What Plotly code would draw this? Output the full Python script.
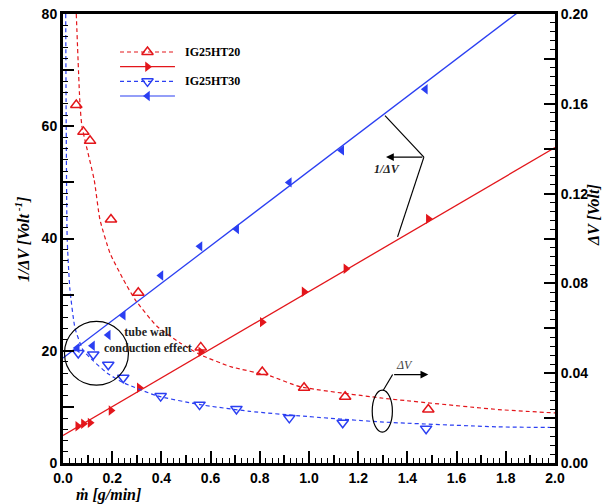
import plotly.graph_objects as go

# ---------------- data ----------------
# IG25HT20 : 1/dV (left axis) and dV (right axis)
ht20_x_inv = [0.06, 0.083, 0.11, 0.195, 0.31, 0.56, 0.81, 0.98, 1.15, 1.485]
ht20_inv = [6.55, 7.0, 7.15, 9.35, 13.4, 19.8, 25.1, 30.5, 34.6, 43.5]
ht20_x_dv = [0.054, 0.083, 0.11, 0.195, 0.306, 0.56, 0.81, 0.98, 1.147, 1.485]
ht20_dv = [0.1595, 0.1475, 0.1435, 0.1085, 0.0758, 0.0515, 0.0405, 0.0335, 0.0295, 0.0238]

# IG25HT30
ht30_x_inv = [0.058, 0.12, 0.184, 0.245, 0.398, 0.557, 0.706, 0.92, 1.133, 1.473]
ht30_inv = [20.5, 20.9, 22.8, 26.3, 33.4, 38.6, 41.7, 50.0, 55.7, 66.6]
ht30_x_dv = [0.062, 0.123, 0.184, 0.245, 0.397, 0.555, 0.705, 0.92, 1.137, 1.476]
ht30_dv = [0.049, 0.0483, 0.0438, 0.038, 0.0298, 0.026, 0.0241, 0.0201, 0.0179, 0.0153]

# fitted lines (1/dV, left axis)
fit20_x = [0.0, 2.0]
fit20_y = [4.9, 56.2]
fit30_x = [0.0, 2.0]
fit30_y = [18.7, 85.3]

# fitted curves (dV, right axis)
curve20_x = [0.054, 0.069, 0.077, 0.127, 0.15, 0.191, 0.245, 0.293, 0.381, 0.476, 0.557, 0.679, 0.841, 0.963, 1.29, 1.77, 2.0]
curve20_y = [0.2, 0.16, 0.15, 0.126, 0.1085, 0.0935, 0.0818, 0.0728, 0.061, 0.0535, 0.0483, 0.043, 0.0388, 0.034, 0.029, 0.0238, 0.0223]
curve30_x = [0.011, 0.013, 0.017, 0.028, 0.049, 0.083, 0.12, 0.18, 0.245, 0.38, 0.557, 0.76, 0.963, 1.29, 1.77, 2.0]
curve30_y = [0.2, 0.15, 0.1, 0.0775, 0.06, 0.05, 0.0458, 0.04, 0.0358, 0.03, 0.026, 0.023, 0.021, 0.0183, 0.0161, 0.0158]

# tick values / labels
x_ticks = [0.0, 0.2, 0.4, 0.6, 0.8, 1.0, 1.2, 1.4, 1.6, 1.8, 2.0]
x_mid_ticks = [0.1, 0.3, 0.5, 0.7, 0.9, 1.1, 1.3, 1.5, 1.7, 1.9]
y_ticks = [0, 10, 20, 30, 40, 50, 60, 70, 80]
y_labels = ['0', '', '20', '', '40', '', '60', '', '80']
y2_ticks = [0.00, 0.02, 0.04, 0.06, 0.08, 0.10, 0.12, 0.14, 0.16, 0.18, 0.20]
y2_labels = ['0.00', '', '0.04', '', '0.08', '', '0.12', '', '0.16', '', '0.20']

legend_names = ['IG25HT20', '', 'IG25HT30', '']
legend_rows = [0, 1, 2, 3]

RED = '#e3161b'
BLUE = '#2b3ff2'
SERIF = 'Liberation Serif'
SANS = 'Liberation Sans'
DASH = '4px,3px'

fig = go.Figure()

# dashed dV curves
fig.add_trace(go.Scatter(x=curve20_x, y=curve20_y, yaxis='y2', mode='lines',
                         line=dict(color=RED, width=1.2, dash=DASH, shape='spline', smoothing=0.5),
                         showlegend=False, hoverinfo='skip'))
fig.add_trace(go.Scatter(x=curve30_x, y=curve30_y, yaxis='y2', mode='lines',
                         line=dict(color=BLUE, width=1.2, dash=DASH, shape='spline', smoothing=0.5),
                         showlegend=False, hoverinfo='skip'))
# fitted lines
fig.add_trace(go.Scatter(x=fit20_x, y=fit20_y, mode='lines', line=dict(color=RED, width=1.3),
                         showlegend=False, hoverinfo='skip'))
fig.add_trace(go.Scatter(x=fit30_x, y=fit30_y, mode='lines', line=dict(color=BLUE, width=1.3),
                         showlegend=False, hoverinfo='skip'))
# markers
sym = {'a': 'triangle-up-open', 'b': 'triangle-right', 'c': 'triangle-down-open', 'd': 'triangle-left'}
fig.add_trace(go.Scatter(x=ht20_x_dv, y=ht20_dv, yaxis='y2', mode='markers',
                         marker=dict(symbol=sym['a'], size=10, color=RED, line=dict(width=1.5)),
                         showlegend=False))
fig.add_trace(go.Scatter(x=ht20_x_inv, y=ht20_inv, mode='markers',
                         marker=dict(symbol=sym['b'], size=9, color=RED),
                         showlegend=False))
fig.add_trace(go.Scatter(x=ht30_x_dv, y=ht30_dv, yaxis='y2', mode='markers',
                         marker=dict(symbol=sym['c'], size=10, color=BLUE, line=dict(width=1.5)),
                         showlegend=False))
fig.add_trace(go.Scatter(x=ht30_x_inv, y=ht30_inv, mode='markers',
                         marker=dict(symbol=sym['d'], size=9, color=BLUE),
                         showlegend=False))

# helper trace so the medium-tick overlay x axis is drawn
fig.add_trace(go.Scatter(x=[None], y=[None], xaxis='x3', mode='markers', showlegend=False,
                         hoverinfo='skip'))

# custom legend drawn on a hidden helper subplot (x2, y3)
leg_styles = [
    (RED, DASH, sym['a'], 10, 1.5),
    (RED, 'solid', sym['b'], 9, 0),
    (BLUE, DASH, sym['c'], 10, 1.5),
    (BLUE, 'solid', sym['d'], 9, 0),
]
for row, (col, dash, s, size, lw) in zip(legend_rows, leg_styles):
    fig.add_trace(go.Scatter(x=[0, 1], y=[row, row], xaxis='x2', yaxis='y3', mode='lines',
                             line=dict(color=col, width=1.2, dash=dash), showlegend=False, hoverinfo='skip'))
    fig.add_trace(go.Scatter(x=[0.5], y=[row], xaxis='x2', yaxis='y3', mode='markers',
                             marker=dict(symbol=s, size=size, color=col, line=dict(width=lw)),
                             showlegend=False, hoverinfo='skip'))
for row, name in zip(legend_rows, legend_names):
    if name:
        fig.add_annotation(xref='paper', yref='y3', x=0.2439, y=row, xanchor='left', yanchor='middle',
                           showarrow=False, text=name,
                           font=dict(family=SERIF, size=12, color='black', weight='bold'))

tickfont = dict(family=SANS, size=14, color='black', weight='bold')

fig.update_layout(
    width=609, height=504,
    margin=dict(l=63, r=54, t=14, b=41, autoexpand=False),
    paper_bgcolor='white', plot_bgcolor='rgba(0,0,0,0)',
    showlegend=False,
    xaxis=dict(range=[0, 2.0], tickvals=x_ticks, ticktext=[f'{v:.1f}' for v in x_ticks],
               ticks='inside', ticklen=12, tickwidth=2, tickcolor='black',
               minor=dict(dtick=0.025, tick0=0, ticks='inside', ticklen=5, tickwidth=1.3, tickcolor='black'),
               showline=True, linewidth=3, linecolor='black', mirror=True, automargin=False,
               showgrid=False, zeroline=False, tickfont=tickfont, ticklabelstandoff=0),
    xaxis3=dict(range=[0, 2.0], overlaying='x', anchor='y', side='bottom', tickvals=x_mid_ticks,
                showticklabels=False, ticks='inside', ticklen=8, tickwidth=1.6, tickcolor='black',
                showline=False, showgrid=False, zeroline=False, automargin=False),
    yaxis=dict(range=[0, 80], tickvals=y_ticks, ticktext=y_labels,
               ticks='inside', ticklen=11, tickwidth=2, tickcolor='black',
               minor=dict(dtick=2, tick0=0, ticks='inside', ticklen=5, tickwidth=1.3, tickcolor='black'),
               showline=True, linewidth=3, linecolor='black', mirror=False, automargin=False,
               showgrid=False, zeroline=False, tickfont=tickfont),
    yaxis2=dict(range=[0, 0.2], overlaying='y', side='right', tickvals=y2_ticks, ticktext=y2_labels,
                ticks='inside', ticklen=11, tickwidth=2, tickcolor='black',
                minor=dict(dtick=0.004, tick0=0, ticks='inside', ticklen=5, tickwidth=1.3, tickcolor='black'),
                showline=True, linewidth=3, linecolor='black', automargin=False,
                showgrid=False, zeroline=False, tickfont=tickfont),
    xaxis2=dict(domain=[0.1159, 0.2276], range=[0, 1], anchor='y3', visible=False, fixedrange=True,
                automargin=False),
    yaxis3=dict(domain=[0.801, 0.9317], range=[3.5, -0.5], anchor='x2', visible=False, fixedrange=True,
                automargin=False),
)

# axis titles
title_font = dict(family=SERIF, size=16, color='black', weight='bold', style='italic')
fig.add_annotation(xref='paper', yref='paper', x=-0.083, y=0.497, xanchor='center', yanchor='middle',
                   textangle=-90, showarrow=False,
                   text='1/ΔV [Volt<sup> -1</sup>]', font=title_font)
fig.add_annotation(xref='paper', yref='paper', x=1.077, y=0.552, xanchor='center', yanchor='middle',
                   textangle=-90, showarrow=False,
                   text='ΔV [Volt]', font=title_font)
fig.add_annotation(xref='paper', yref='paper', x=0.0915, y=-0.0715, xanchor='center', yanchor='middle',
                   showarrow=False, text='ṁ [g/min]', font=title_font)

# tube wall conduction effect
fig.add_shape(type='circle', xref='x', yref='y', x0=0.006, x1=0.266, y0=13.86, y1=25.25,
              line=dict(color='black', width=1.2))
fig.add_annotation(xref='x', yref='y', x=0.346, y=22.0, showarrow=False,
                   text='tube wall<br>conduction effect',
                   font=dict(family=SERIF, size=12, color='#222', weight='bold'))

# 1/dV pointer
fig.add_shape(type='line', xref='x', yref='y', x0=1.467, y0=54.5, x1=1.309, y1=61.9,
              line=dict(color='black', width=1.2))
fig.add_shape(type='line', xref='x', yref='y', x0=1.467, y0=54.5, x1=1.360, y1=40.3,
              line=dict(color='black', width=1.2))
fig.add_annotation(xref='x', yref='y', x=1.313, y=54.5, ax=1.467, ay=54.5, axref='x', ayref='y',
                   text='', showarrow=True, arrowhead=2, arrowsize=1.2, arrowwidth=1.3, arrowcolor='black')
fig.add_annotation(xref='x', yref='y', x=1.319, y=52.4, showarrow=False, text='1/ΔV',
                   font=dict(family=SERIF, size=12, color='#222', weight='bold', style='italic'))

# dV pointer
fig.add_shape(type='circle', xref='x', yref='y', x0=1.257, x1=1.339, y0=5.49, y1=12.97,
              line=dict(color='black', width=1.2))
fig.add_shape(type='line', xref='x', yref='y', x0=1.340, y0=15.76, x1=1.302, y1=12.97,
              line=dict(color='black', width=1.2))
fig.add_annotation(xref='x', yref='y', x=1.485, y=15.76, ax=1.340, ay=15.76, axref='x', ayref='y',
                   text='', showarrow=True, arrowhead=2, arrowsize=1.2, arrowwidth=1.3, arrowcolor='black')
fig.add_annotation(xref='x', yref='y', x=1.388, y=17.4, showarrow=False, text='ΔV',
                   font=dict(family=SERIF, size=12, color='#444', style='italic'))

fig.write_html('out.html')
